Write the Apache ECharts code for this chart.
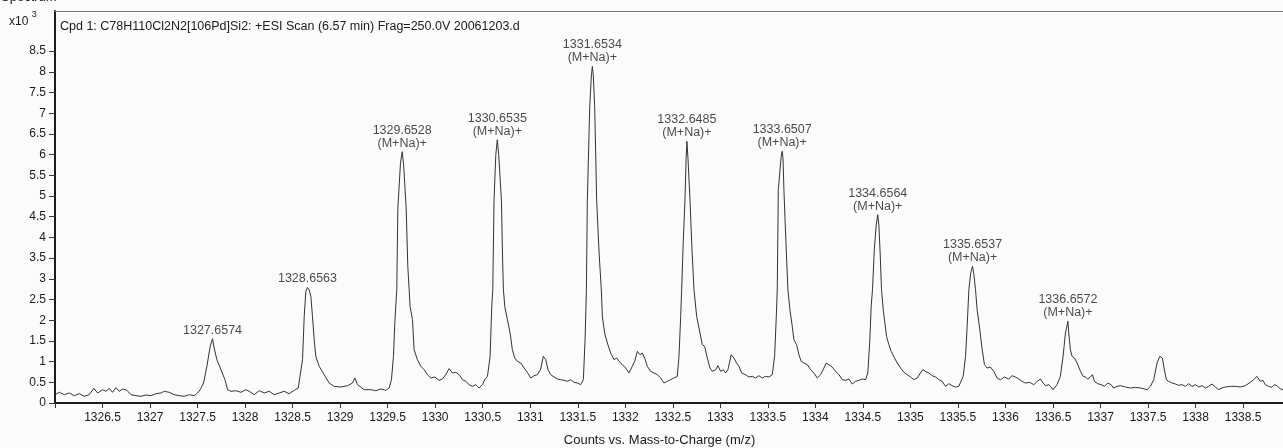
<!DOCTYPE html>
<html>
<head>
<meta charset="utf-8">
<title>Spectrum</title>
<script src="https://cdn.jsdelivr.net/npm/echarts@6/dist/echarts.min.js"></script>
<style>
  html, body { margin: 0; padding: 0; background: #fbfbfb; }
  #chart { width: 1283px; height: 448px; }
</style>
</head>
<body>
<div id="chart"></div>
<script>
// Profile trace of the +ESI scan: [m/z, counts]
const profile = [
  [1326.000,201],[1326.046,258],[1326.098,201],[1326.151,242],[1326.203,177],[1326.256,225],[1326.308,161],
  [1326.361,201],[1326.407,354],[1326.449,242],[1326.501,322],[1326.536,282],[1326.571,354],[1326.606,258],
  [1326.641,370],[1326.676,282],[1326.712,338],[1326.757,306],[1326.799,201],[1326.852,177],[1326.904,161],
  [1326.957,193],[1327.009,177],[1327.062,225],[1327.115,242],[1327.150,282],[1327.202,258],[1327.255,201],
  [1327.307,177],[1327.360,161],[1327.413,201],[1327.465,177],[1327.500,242],[1327.528,322],[1327.563,483],
  [1327.598,886],[1327.633,1369],
  [1327.675,1328],[1327.703,1047],[1327.746,805],[1327.788,564],[1327.816,322],[1327.851,282],[1327.903,298],
  [1327.956,258],[1328.008,322],[1328.043,282],[1328.096,201],[1328.149,298],[1328.201,242],[1328.254,282],
  [1328.306,201],[1328.359,242],[1328.411,282],[1328.464,225],[1328.517,306],[1328.559,362],
  [1328.604,1046],[1328.622,2092],[1328.639,2696],
  [1328.674,2736],[1328.692,2575],[1328.709,2092],[1328.727,1529],[1328.744,1126],[1328.780,885],[1328.832,683],
  [1328.885,482],[1328.937,402],[1329.007,386],[1329.078,418],[1329.130,482],[1329.155,603],[1329.183,442],
  [1329.253,321],[1329.323,322],[1329.375,298],[1329.428,338],[1329.481,306],[1329.516,362],[1329.540,564],
  [1329.561,1127],[1329.575,1932],[1329.596,2737],[1329.607,4700],[1329.635,5800],
  [1329.668,5750],[1329.695,4700],[1329.712,3300],[1329.726,2737],[1329.736,2335],[1329.761,2013],[1329.778,1288],
  [1329.813,1047],[1329.849,886],[1329.884,805],[1329.919,684],[1329.954,604],[1329.996,628],[1330.041,547],
  [1330.076,580],[1330.111,684],[1330.146,829],[1330.182,725],[1330.217,741],[1330.252,684],[1330.287,564],
  [1330.322,523],[1330.357,443],[1330.392,402],[1330.427,443],[1330.462,362],[1330.497,443],[1330.521,564],
  [1330.550,644],[1330.578,1127],[1330.595,2335],[1330.606,2737],[1330.619,4900],[1330.638,6000],
  [1330.668,6000],[1330.697,4900],[1330.710,3400],[1330.718,2737],[1330.732,2335],[1330.760,2013],[1330.788,1690],
  [1330.812,1288],[1330.837,1087],[1330.865,1006],[1330.900,966],[1330.935,845],[1330.970,741],[1331.005,604],
  [1331.040,660],[1331.075,684],[1331.110,821],[1331.138,1127],[1331.163,1047],[1331.187,805],[1331.216,684],
  [1331.251,628],[1331.286,580],[1331.321,564],[1331.356,547],[1331.391,523],[1331.426,564],[1331.461,499],
  [1331.496,483],[1331.531,443],[1331.559,564],[1331.577,1530],[1331.591,2737],[1331.601,4900],[1331.626,7160],
  [1331.643,7900],
  [1331.664,7900],[1331.678,7160],[1331.699,4900],[1331.725,3600],[1331.748,2737],[1331.759,2093],[1331.783,1690],
  [1331.811,1449],[1331.846,1208],[1331.881,1047],[1331.910,1087],[1331.934,1006],[1331.969,926],[1332.004,845],
  [1332.039,725],[1332.074,886],[1332.099,1006],[1332.127,1248],[1332.155,1167],[1332.179,1208],[1332.204,1087],
  [1332.232,886],[1332.267,765],[1332.302,725],[1332.337,684],[1332.372,604],[1332.407,483],[1332.442,523],
  [1332.477,564],[1332.512,604],[1332.547,644],[1332.565,1127],[1332.583,2093],[1332.593,2737],[1332.610,3900],
  [1332.628,4900],[1332.640,5900],
  [1332.660,5900],[1332.681,4900],[1332.700,3800],[1332.723,2737],[1332.751,2093],[1332.786,1690],[1332.810,1409],
  [1332.835,1369],[1332.863,1087],[1332.891,845],[1332.916,765],[1332.951,805],[1332.975,902],[1333.003,765],
  [1333.031,805],[1333.056,725],[1333.080,805],[1333.115,1167],[1333.143,1087],[1333.171,966],[1333.196,886],
  [1333.224,725],[1333.266,684],[1333.301,628],[1333.336,644],[1333.371,604],[1333.406,660],[1333.441,604],
  [1333.476,644],[1333.511,628],[1333.546,684],[1333.571,1127],[1333.589,2093],[1333.599,2737],[1333.610,5150],
  [1333.640,5950],
  [1333.660,5900],[1333.669,5150],[1333.690,3900],[1333.711,2737],[1333.732,2254],[1333.757,1852],[1333.774,1530],
  [1333.802,1409],[1333.827,1167],[1333.851,1006],[1333.879,966],[1333.915,926],[1333.950,805],[1333.985,725],
  [1334.020,604],[1334.055,684],[1334.090,845],[1334.114,966],[1334.142,926],[1334.177,869],[1334.213,765],
  [1334.248,684],[1334.283,564],[1334.318,547],[1334.353,580],[1334.388,459],[1334.423,523],[1334.458,547],
  [1334.493,580],[1334.528,564],[1334.552,725],[1334.573,1530],[1334.587,2335],[1334.601,2737],[1334.620,3700],
  [1334.640,4300],
  [1334.668,4300],[1334.682,3600],[1334.696,2737],[1334.714,2254],[1334.749,1610],[1334.773,1409],[1334.798,1248],
  [1334.833,1087],[1334.861,966],[1334.896,845],[1334.931,741],[1334.966,684],[1335.001,628],[1335.036,564],
  [1335.071,604],[1335.106,725],[1335.131,805],[1335.159,765],[1335.194,725],[1335.229,660],[1335.264,628],
  [1335.299,564],[1335.334,523],[1335.369,402],[1335.404,467],[1335.439,419],[1335.474,386],[1335.509,402],
  [1335.527,443],[1335.555,644],[1335.580,1127],[1335.597,1852],[1335.615,2737],[1335.635,3150],
  [1335.668,3100],[1335.685,2737],[1335.702,2254],[1335.730,1771],[1335.755,1288],[1335.779,926],[1335.807,845],
  [1335.842,869],[1335.877,765],[1335.912,604],[1335.947,560],[1335.989,628],[1336.035,580],[1336.070,660],
  [1336.105,628],[1336.140,580],[1336.175,523],[1336.210,483],[1336.256,499],[1336.298,443],[1336.333,523],
  [1336.368,580],[1336.396,483],[1336.421,419],[1336.456,443],[1336.501,322],[1336.543,443],[1336.578,644],
  [1336.606,1127],[1336.631,1691],
  [1336.666,1691],[1336.683,1288],[1336.701,1127],[1336.726,1087],[1336.754,966],[1336.789,765],[1336.817,644],
  [1336.841,628],[1336.866,580],[1336.894,628],[1336.915,684],[1336.936,523],[1336.971,467],[1337.006,443],
  [1337.041,402],[1337.076,483],[1337.111,443],[1337.139,362],[1337.174,402],[1337.209,419],[1337.262,386],
  [1337.314,362],[1337.367,378],[1337.420,362],[1337.490,322],[1337.525,402],[1337.560,564],[1337.595,966],
  [1337.623,1127],[1337.637,1130],[1337.651,1087],[1337.672,805],[1337.693,564],[1337.718,523],[1337.753,483],
  [1337.788,459],[1337.823,427],[1337.858,443],[1337.893,402],[1337.928,467],[1337.963,402],[1337.998,443],
  [1338.033,386],[1338.068,419],[1338.103,362],[1338.138,402],[1338.173,459],[1338.208,386],[1338.243,322],
  [1338.278,362],[1338.313,386],[1338.366,402],[1338.419,402],[1338.471,386],[1338.524,419],[1338.576,499],
  [1338.611,564],[1338.646,644],[1338.664,604],[1338.681,523],[1338.709,547],[1338.734,443],[1338.769,402],
  [1338.804,378],[1338.829,443],[1338.857,419],[1338.892,338],[1338.923,322]
];

// Labelled isotope peaks
const peakMz     = [1327.6574, 1328.6563, 1329.6528, 1330.6535, 1331.6534, 1332.6485, 1333.6507, 1334.6564, 1335.6537, 1336.6572];
const peakCounts = [1555, 2790, 6070, 6360, 8130, 6320, 6080, 4550, 3300, 1972];
const peakIon    = ['', '', '(M+Na)+', '(M+Na)+', '(M+Na)+', '(M+Na)+', '(M+Na)+', '(M+Na)+', '(M+Na)+', '(M+Na)+'];

// Axis ticks
const xTicks = [1326, 1326.5, 1327, 1327.5, 1328, 1328.5, 1329, 1329.5, 1330, 1330.5, 1331, 1331.5, 1332,
                1332.5, 1333, 1333.5, 1334, 1334.5, 1335, 1335.5, 1336, 1336.5, 1337, 1337.5, 1338, 1338.5];
const yTicks = [0, 500, 1000, 1500, 2000, 2500, 3000, 3500, 4000, 4500, 5000, 5500, 6000, 6500, 7000, 7500, 8000, 8500];

const headerText = 'Cpd 1: C78H110Cl2N2[106Pd]Si2: +ESI Scan (6.57 min) Frag=250.0V 20061203.d';

const FONT = '"Liberation Sans", Arial, Helvetica, sans-serif';
const INK = '#1a1a1a';

// Full trace: profile points plus the peak apexes, in m/z order
const peakPoints = peakMz.map((mz, i) => [mz, peakCounts[i]]);
const trace = profile.concat(peakPoints).sort((a, b) => a[0] - b[0]);

const peakLabels = peakMz.map((mz, i) => ({
  value: [mz, peakCounts[i]],
  label: { formatter: peakIon[i] ? mz.toFixed(4) + '\n' + peakIon[i] : mz.toFixed(4) }
}));

const X_MIN = 1326, X_MAX = 1338.92, Y_MAX = 9470;

const chart = echarts.init(document.getElementById('chart'), null, { renderer: 'canvas' });
chart.setOption({
  animation: false,
  backgroundColor: '#fbfbfb',
  textStyle: { fontFamily: FONT },
  title: {
    text: headerText,
    left: 60, top: 20, padding: 0,
    textStyle: { fontSize: 12.5, fontWeight: 'normal', color: INK, fontFamily: FONT }
  },
  graphic: [
    {
      type: 'text', left: 1, top: -9,
      style: { text: 'Spectrum', font: '13px ' + FONT, fill: INK }
    },
    {
      type: 'text', left: 9, top: 10,
      style: {
        text: '{b|x10} {s|3}',
        rich: {
          b: { fontSize: 12, fontFamily: FONT, fill: INK, verticalAlign: 'bottom', padding: [6, 0, 0, 0] },
          s: { fontSize: 9, fontFamily: FONT, fill: INK, verticalAlign: 'top' }
        }
      }
    }
  ],
  grid: { left: 55, right: 0, top: 11, bottom: 45, outerBoundsMode: 'none', containLabel: false },
  xAxis: [
    {
      type: 'value', min: X_MIN, max: X_MAX, interval: 0.5,
      name: 'Counts vs. Mass-to-Charge (m/z)',
      nameLocation: 'middle', nameGap: 31,
      nameTextStyle: { fontSize: 13, color: INK, fontFamily: FONT, padding: [0, 19, 0, 0] },
      axisLine: { show: true, onZero: false, lineStyle: { color: '#1c1c1c', width: 2 } },
      axisTick: { show: true, length: 5, customValues: xTicks, lineStyle: { color: '#333', width: 1 } },
      axisLabel: {
        customValues: xTicks.slice(1), margin: 9,
        fontSize: 12, color: INK, fontFamily: FONT,
        formatter: v => String(v)
      },
      splitLine: { show: false }
    },
    {
      type: 'value', position: 'top', min: X_MIN, max: X_MAX,
      axisLine: { show: true, onZero: false, lineStyle: { color: '#777', width: 1 } },
      axisTick: { show: false }, axisLabel: { show: false }, splitLine: { show: false }
    }
  ],
  yAxis: {
    type: 'value', min: 0, max: Y_MAX, interval: 500,
    axisLine: { show: true, onZero: false, lineStyle: { color: '#1c1c1c', width: 2 } },
    axisTick: { show: true, length: 6, customValues: yTicks, lineStyle: { color: '#333', width: 1 } },
    axisLabel: {
      customValues: yTicks, margin: 9,
      fontSize: 12, color: INK, fontFamily: FONT,
      formatter: v => String(v / 1000)
    },
    splitLine: { show: false }
  },
  series: [
    {
      type: 'line',
      data: trace,
      showSymbol: false,
      symbol: 'none',
      sampling: null,
      lineStyle: { color: '#333333', width: 1 },
      z: 2
    },
    {
      type: 'scatter',
      data: peakLabels,
      symbolSize: 0,
      silent: true,
      label: {
        show: true, position: 'top', distance: 2,
        fontSize: 12.5, lineHeight: 13, color: INK, fontFamily: FONT, align: 'center'
      },
      z: 3
    }
  ]
});
</script>
</body>
</html>
